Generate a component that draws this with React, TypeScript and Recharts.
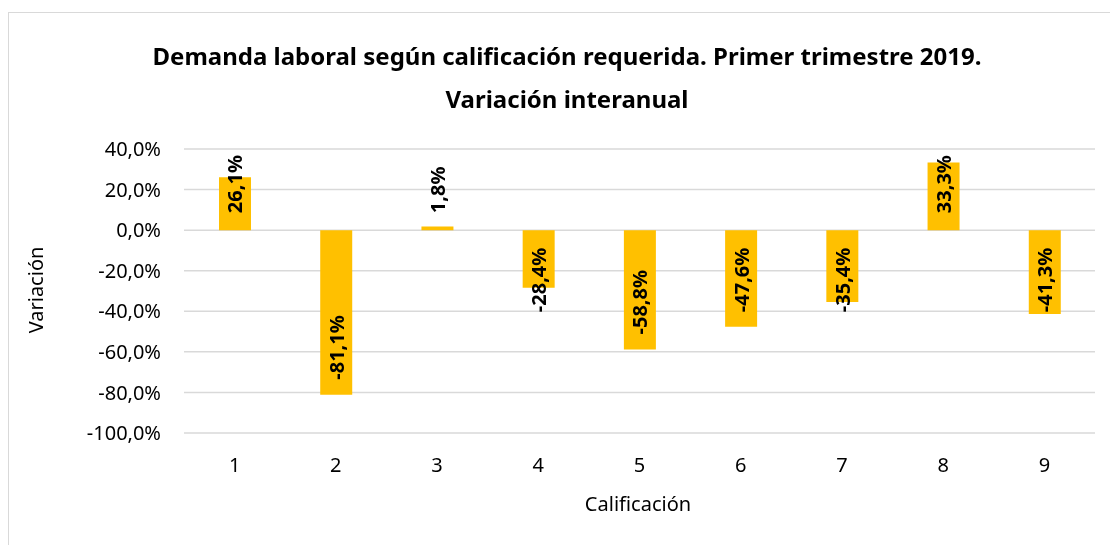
import { Bar, BarChart, CartesianGrid, XAxis, YAxis, LabelList } from 'recharts'

const categories = ['1', '2', '3', '4', '5', '6', '7', '8', '9']
const variation = [26.1, -81.1, 1.8, -28.4, -58.8, -47.6, -35.4, 33.3, -41.3]
const yTicks = [-100, -80, -60, -40, -20, 0, 20, 40]

const data = categories.map((name, i) => ({ name, value: variation[i] }))

const font = '"Noto Sans", sans-serif'
const pct = (v: number) => v.toFixed(1).replace('.', ',') + '%'

// rough width of a bold label, used to mimic Excel's "inside end" placement
const charW: Record<string, number> = { ',': 0.27, '%': 0.86, '-': 0.32 }
const textLen = (s: string, size: number) =>
  s.split('').reduce((sum, c) => sum + (charW[c] ?? 0.6) * size, 0)

function BarLabel(props: any) {
  const { x, y, width, height, value } = props
  const size = 20
  const cx = x + width / 2
  const top = Math.min(y, y + height)
  const bottom = Math.max(y, y + height)
  const text = pct(value)
  const len = textLen(text, size)
  // y where the text starts (it runs upwards)
  const ty = value >= 0 ? bottom - 17 : Math.max(bottom - 15, top + 17 + len)
  return (
    <text
      x={cx}
      y={ty}
      transform={`rotate(-90 ${cx} ${ty})`}
      textAnchor="start"
      dominantBaseline="central"
      fontFamily={font}
      fontWeight={700}
      fontSize={size}
      fill="#000"
    >
      {text}
    </text>
  )
}

export default function App() {
  return (
    <div
      style={{
        position: 'fixed',
        left: 8,
        top: 12,
        width: 1110,
        height: 540,
        borderTop: '1px solid #d9d9d9',
        borderLeft: '1px solid #d9d9d9',
        fontFamily: font,
        color: '#000',
      }}
    >
      <div
        style={{
          position: 'absolute',
          left: 58,
          top: 21,
          width: 1000,
          textAlign: 'center',
          fontSize: 24,
          fontWeight: 700,
          lineHeight: '43px',
        }}
      >
        Demanda laboral según calificación requerida. Primer trimestre 2019.
        <br />
        Variación interanual
      </div>
      <div
        style={{
          position: 'absolute',
          left: 26,
          top: 277,
          fontSize: 20,
          whiteSpace: 'nowrap',
          transform: 'translate(-50%, -50%) rotate(-90deg)',
        }}
      >
        Variación
      </div>
      <div
        style={{
          position: 'absolute',
          left: 629,
          top: 490,
          fontSize: 20,
          whiteSpace: 'nowrap',
          transform: 'translate(-50%, -50%)',
        }}
      >
        Calificación
      </div>
      <BarChart width={1100} height={520} data={data} margin={{ top: 136, right: 14, bottom: 40, left: 0 }}>
        <CartesianGrid vertical={false} stroke="#d9d9d9" strokeWidth={1.5} />
        <XAxis
          dataKey="name"
          height={60}
          axisLine={false}
          tickLine={false}
          tickSize={0}
          tickMargin={25}
          tick={{ fill: '#000', fontSize: 20, fontFamily: font }}
        />
        <YAxis
          width={175}
          domain={[-100, 40]}
          ticks={yTicks}
          interval={0}
          axisLine={false}
          tickLine={false}
          tickSize={0}
          tickMargin={23}
          tickFormatter={pct}
          tick={{ fill: '#000', fontSize: 20, fontFamily: font }}
        />
        <Bar dataKey="value" fill="#FFC000" barSize={32} isAnimationActive={false}>
          <LabelList dataKey="value" content={BarLabel} />
        </Bar>
      </BarChart>
    </div>
  )
}
